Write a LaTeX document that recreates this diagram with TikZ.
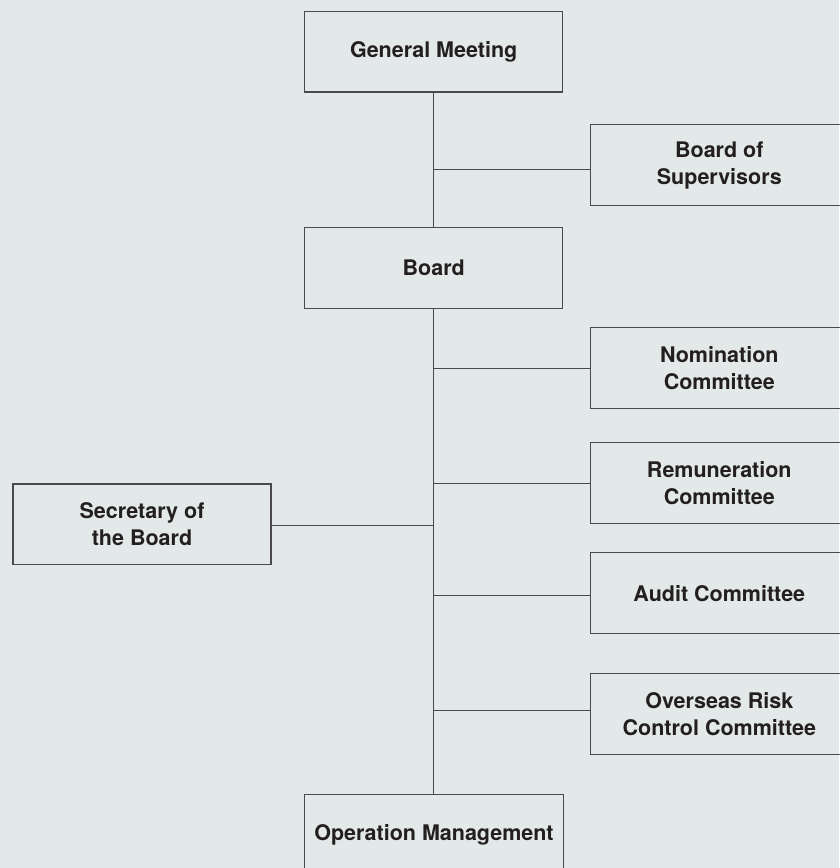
\documentclass[tikz,border=0pt]{standalone}
\usepackage{fontspec}
\setmainfont{TeX Gyre Heros}
\definecolor{bg}{HTML}{E3E8E8}
\definecolor{ln}{HTML}{4A4A4C}
\definecolor{tx}{HTML}{231F20}
\begin{document}
\begin{tikzpicture}[x=1pt,y=-1pt,
  orgtext/.style={rectangle,inner sep=0pt,
    minimum width=258pt,minimum height=80.5pt,align=center,text=tx,
    font=\fontsize{21.5}{27.3}\selectfont\bfseries},
  orgbox/.style={orgtext,draw=ln,line width=1.1pt,fill=bg},
  openbox/.style={orgtext},
  link/.style={draw=ln,line width=1.1pt}]
\fill[bg] (0,0) rectangle (839,868);
\useasboundingbox (0,0) rectangle (839,868);
\node[orgbox] (gm) at (433.7,51.7) {General Meeting};
\node[openbox] (bos) at (719.3,165.2) {Board of\\Supervisors};
\node[orgbox] (board) at (433.7,268) {Board};
\node[openbox] (nom) at (719.3,367.9) {Nomination\\Committee};
\node[openbox] (rem) at (719.3,483.2) {Remuneration\\Committee};
\node[orgbox] (sec) at (142,524.2) {Secretary of\\the Board};
\node[openbox] (aud) at (719.3,593.3) {Audit Committee};
\node[openbox] (ovr) at (719.3,714.2) {Overseas Risk\\Control Committee};
\node[openbox] (om) at (434,834.5) {Operation Management};
\foreach \n in {bos,nom,rem,aud,ovr}
  \draw[link] ([xshift=20pt]\n.north east) -- (\n.north west) -- (\n.south west) -- ([xshift=20pt]\n.south east);
\draw[link] ([yshift=-20pt]om.south west) -- (om.north west) -- (om.north east) -- ([yshift=-20pt]om.south east);
\draw[link] (gm.south) -- (board.north);
\draw[link] (board.south) -- (board.south |- om.north);
\coordinate (j1) at (433.7,169.7);
\coordinate (j2) at (433.7,368.3);
\coordinate (j3) at (433.7,483.3);
\coordinate (j4) at (433.7,525.5);
\coordinate (j5) at (433.7,595.7);
\coordinate (j6) at (433.7,710.7);
\draw[link] (j1) -- (bos.west |- j1);
\draw[link] (j2) -- (nom.west |- j2);
\draw[link] (j3) -- (rem.west |- j3);
\draw[link] (j4) -- (sec.east |- j4);
\draw[link] (j5) -- (aud.west |- j5);
\draw[link] (j6) -- (ovr.west |- j6);
\end{tikzpicture}
\end{document}
